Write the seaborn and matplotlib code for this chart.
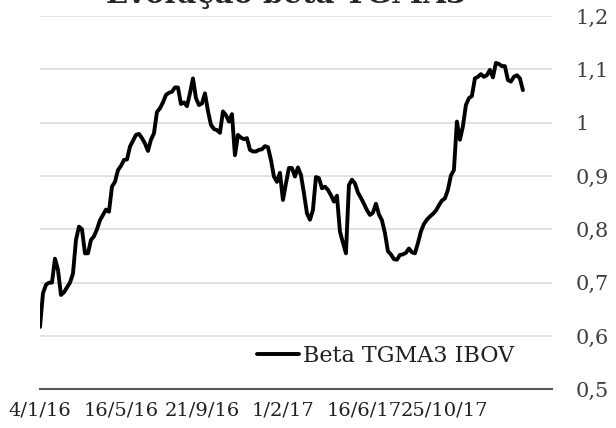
import pandas as pd
import matplotlib.pyplot as plt
import seaborn as sns

# Beta TGMA3 vs IBOV (evenly spaced samples)
beta_values = [
    0.617, 0.680, 0.696, 0.700, 0.700, 0.745, 0.724, 0.677, 0.682, 0.691,
    0.700, 0.717, 0.780, 0.805, 0.800, 0.755, 0.755, 0.780, 0.787, 0.800,
    0.817, 0.827, 0.837, 0.833, 0.880, 0.889, 0.911, 0.919, 0.930, 0.931,
    0.955, 0.966, 0.977, 0.979, 0.971, 0.961, 0.947, 0.968, 0.980, 1.020,
    1.027, 1.038, 1.052, 1.056, 1.058, 1.066, 1.066, 1.035, 1.038, 1.031,
    1.055, 1.083, 1.046, 1.033, 1.036, 1.055, 1.022, 0.996, 0.988, 0.986,
    0.981, 1.021, 1.014, 1.002, 1.016, 0.939, 0.977, 0.972, 0.969, 0.971,
    0.949, 0.946, 0.946, 0.949, 0.950, 0.956, 0.954, 0.930, 0.899, 0.889,
    0.906, 0.855, 0.886, 0.915, 0.915, 0.899, 0.916, 0.902, 0.868, 0.830,
    0.818, 0.836, 0.898, 0.896, 0.877, 0.880, 0.874, 0.864, 0.852, 0.863,
    0.796, 0.775, 0.755, 0.883, 0.893, 0.886, 0.869, 0.859, 0.848, 0.836,
    0.827, 0.831, 0.848, 0.828, 0.817, 0.793, 0.759, 0.753, 0.744, 0.743,
    0.752, 0.753, 0.756, 0.764, 0.757, 0.755, 0.774, 0.796, 0.810, 0.818,
    0.824, 0.829, 0.835, 0.845, 0.854, 0.858, 0.874, 0.901, 0.911, 1.002,
    0.968, 0.993, 1.033, 1.046, 1.050, 1.083, 1.086, 1.091, 1.086, 1.089,
    1.099, 1.085, 1.112, 1.110, 1.106, 1.106, 1.080, 1.077, 1.086, 1.089,
    1.083, 1.061,
]
date_labels = ["4/1/16", "16/5/16", "21/9/16", "1/2/17", "16/6/17", "25/10/17"]
date_label_pos = [0, 27, 54, 81, 108, 135]
y_ticks = [0.5, 0.6, 0.7, 0.8, 0.9, 1.0, 1.1, 1.2]
y_ticklabels = ["0,5", "0,6", "0,7", "0,8", "0,9", "1", "1,1", "1,2"]
series_name = "Beta TGMA3 IBOV"
title = "Evolução beta TGMA3"

df = pd.DataFrame({"idx": range(len(beta_values)), "beta": beta_values})

sns.set_theme(style="white")
plt.rcParams["font.family"] = ["DejaVu Serif", "DejaVu Sans"]

fig = plt.figure(figsize=(6.16, 4.28), dpi=100)
ax = fig.add_axes([0.0649, 0.0904, 0.8312, 0.8722])

sns.lineplot(data=df, x="idx", y="beta", color="black", linewidth=2.8,
             label=series_name, ax=ax)

ax.set_xlim(0, 170.7)
ax.set_ylim(0.5, 1.2)
ax.set_yticks(y_ticks)
ax.set_yticklabels(y_ticklabels)
ax.set_xticks(date_label_pos)
ax.set_xticklabels(date_labels)
ax.yaxis.tick_right()
ax.tick_params(axis="y", length=0, pad=17, labelsize=15, labelcolor="#404040")
ax.tick_params(axis="x", length=0, pad=9, labelsize=14, labelcolor="#202020")
ax.set_xlabel("")
ax.set_ylabel("")

for v in y_ticks[1:]:
    ax.axhline(v, color="#d9d9d9", linewidth=1.1, zorder=0)

for s in ["top", "left", "right"]:
    ax.spines[s].set_visible(False)
ax.spines["bottom"].set_color("#595959")
ax.spines["bottom"].set_linewidth(1.5)

ax.legend(loc="center right", bbox_to_anchor=(0.965, 0.09), frameon=False,
          fontsize=16, handlelength=1.9, handletextpad=0.15,
          labelcolor="#202020")

fig.text(0.465, 0.993, title, ha="center", va="baseline",
         fontsize=21, fontweight="bold", color="#262626")

fig.savefig("out.png", dpi=100)
